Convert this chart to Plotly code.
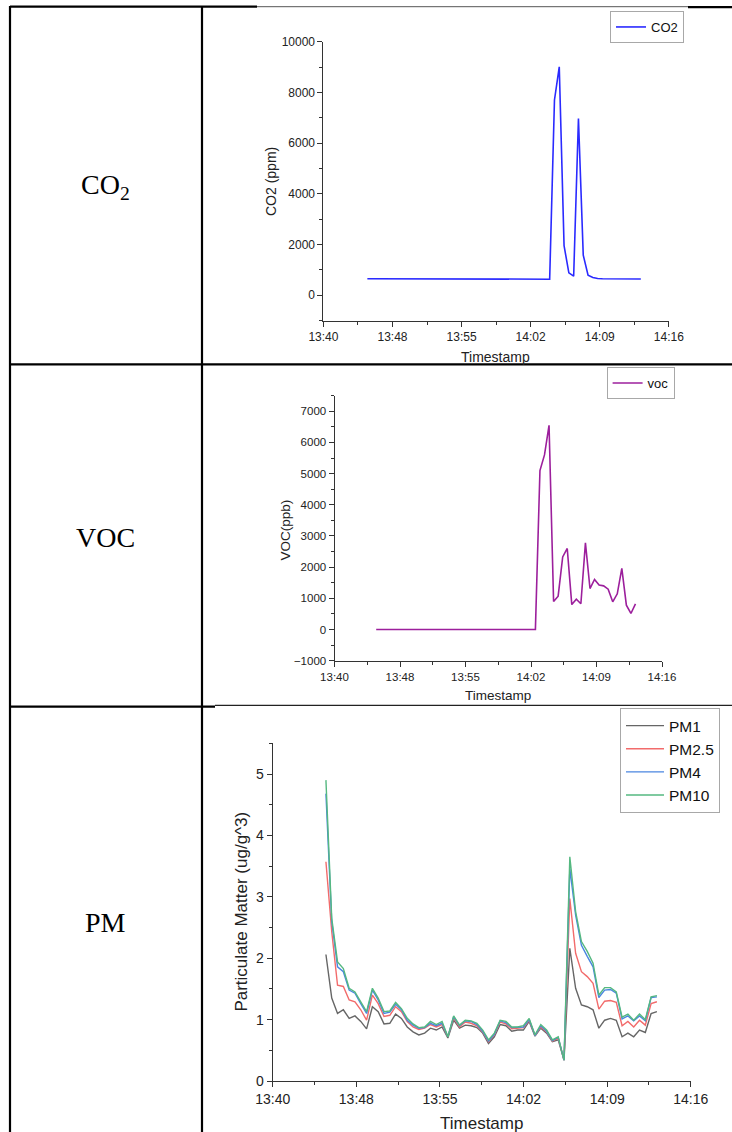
import plotly.graph_objects as go

W, H = 732, 1132

# ---------------- data ----------------
x_tick_labels = ["13:40", "13:48", "13:55", "14:02", "14:09", "14:16"]
x_tick_minutes = [0, 7.2, 14.4, 21.6, 28.8, 36]   # minutes after 13:40
x_minor_step = 3.6

co2_time = ["13:44:35", "13:55:35", "13:56:05", "14:03:35", "14:04:05", "14:04:35",
            "14:05:05", "14:05:35", "14:06:05", "14:06:35", "14:07:05", "14:07:35",
            "14:08:05", "14:08:35", "14:09:05", "14:11:05", "14:11:35", "14:13:05"]
co2_ppm = [650, 650, 630, 630, 7700, 9010, 1950, 880, 750, 6970, 1580, 790,
           700, 660, 650, 650, 640, 640]

voc_time = ["13:44:35", "14:02:05", "14:02:35", "14:03:05", "14:03:35", "14:04:05",
            "14:04:35", "14:05:05", "14:05:35", "14:06:05", "14:06:35", "14:07:05",
            "14:07:35", "14:08:05", "14:08:35", "14:09:05", "14:09:35", "14:10:05",
            "14:10:35", "14:11:05", "14:11:35", "14:12:05", "14:12:35", "14:13:05"]
voc_ppb = [0, 0, 5100, 5600, 6550, 900, 1070, 2330, 2600, 800, 975, 825,
           2780, 1315, 1605, 1425, 1400, 1295, 890, 1145, 1960, 780, 515, 825]

pm_time = ["13:44:35", "13:45:05", "13:45:35", "13:46:05", "13:46:35", "13:47:05",
           "13:47:35", "13:48:05", "13:48:35", "13:49:05", "13:49:35", "13:50:05",
           "13:50:35", "13:51:05", "13:51:35", "13:52:05", "13:52:35", "13:53:05",
           "13:53:35", "13:54:05", "13:54:35", "13:55:05", "13:55:35", "13:56:05",
           "13:56:35", "13:57:05", "13:57:35", "13:58:05", "13:58:35", "13:59:05",
           "13:59:35", "14:00:05", "14:00:35", "14:01:05", "14:01:35", "14:02:05",
           "14:02:35", "14:03:05", "14:03:35", "14:04:05", "14:04:35", "14:05:05",
           "14:05:35", "14:06:05", "14:06:35", "14:07:05", "14:07:35", "14:08:05",
           "14:08:35", "14:09:05", "14:09:35", "14:10:05", "14:10:35", "14:11:05",
           "14:11:35", "14:12:05", "14:12:35", "14:13:05"]
pm10 = [4.90, 2.65, 1.94, 1.83, 1.51, 1.45, 1.29, 1.13, 1.51, 1.35, 1.13, 1.14,
        1.28, 1.18, 1.02, 0.93, 0.87, 0.88, 0.97, 0.92, 0.97, 0.72, 1.06, 0.91,
        0.99, 0.98, 0.94, 0.83, 0.67, 0.78, 0.99, 0.97, 0.88, 0.88, 0.90, 1.02,
        0.75, 0.92, 0.83, 0.67, 0.72, 0.34, 3.65, 2.76, 2.27, 2.11, 1.92, 1.40,
        1.52, 1.52, 1.45, 1.04, 1.09, 0.99, 1.09, 1.00, 1.37, 1.39]
pm4 = [4.68, 2.60, 1.86, 1.78, 1.48, 1.43, 1.26, 1.10, 1.48, 1.32, 1.10, 1.12,
       1.25, 1.16, 0.99, 0.91, 0.86, 0.87, 0.94, 0.90, 0.94, 0.72, 1.05, 0.90,
       0.98, 0.97, 0.92, 0.81, 0.65, 0.76, 0.98, 0.95, 0.87, 0.87, 0.88, 1.00,
       0.74, 0.90, 0.81, 0.66, 0.71, 0.34, 3.46, 2.70, 2.21, 2.03, 1.86, 1.36,
       1.48, 1.49, 1.43, 1.01, 1.06, 0.98, 1.06, 0.98, 1.36, 1.37]
pm25 = [3.57, 2.43, 1.56, 1.54, 1.32, 1.29, 1.16, 0.99, 1.40, 1.26, 1.05, 1.07,
        1.21, 1.13, 0.97, 0.88, 0.84, 0.86, 0.92, 0.88, 0.92, 0.72, 1.03, 0.88,
        0.96, 0.94, 0.90, 0.80, 0.64, 0.75, 0.96, 0.93, 0.85, 0.86, 0.87, 0.99,
        0.74, 0.88, 0.80, 0.65, 0.70, 0.34, 2.97, 2.08, 1.78, 1.70, 1.59, 1.17,
        1.30, 1.31, 1.28, 0.90, 0.97, 0.88, 0.99, 0.91, 1.26, 1.29]
pm1 = [2.06, 1.35, 1.10, 1.16, 1.02, 1.06, 0.97, 0.85, 1.21, 1.13, 0.93, 0.94,
       1.09, 1.02, 0.88, 0.80, 0.75, 0.78, 0.86, 0.83, 0.88, 0.70, 0.99, 0.86,
       0.91, 0.90, 0.87, 0.78, 0.61, 0.72, 0.92, 0.90, 0.81, 0.83, 0.83, 0.97,
       0.73, 0.86, 0.78, 0.64, 0.67, 0.34, 2.16, 1.51, 1.24, 1.21, 1.16, 0.86,
       0.99, 1.02, 0.99, 0.72, 0.78, 0.72, 0.83, 0.79, 1.10, 1.13]


def to_min(t):
    h, m, s = (int(v) for v in t.split(":"))
    return h * 60 + m + s / 60 - (13 * 60 + 40)


def px(x):
    return x / W


def py(y):
    return 1 - y / H


SANS = "Liberation Sans, Arial, sans-serif"
SERIF = "Liberation Serif, Times New Roman, serif"
AX = "#333333"

fig = go.Figure()

fig.add_trace(go.Scatter(x=[to_min(t) for t in co2_time], y=co2_ppm, mode="lines",
                         name="CO2", line=dict(color="#2a2aff", width=1.6),
                         xaxis="x", yaxis="y", legend="legend"))
fig.add_trace(go.Scatter(x=[to_min(t) for t in voc_time], y=voc_ppb, mode="lines",
                         name="voc", line=dict(color="#9c1f9c", width=1.6),
                         xaxis="x2", yaxis="y2", legend="legend2"))
pm_x = [to_min(t) for t in pm_time]
for name, vals, col in [("PM1", pm1, "#666666"), ("PM2.5", pm25, "#f26b6b"),
                        ("PM4", pm4, "#4a86e0"), ("PM10", pm10, "#55b880")]:
    fig.add_trace(go.Scatter(x=pm_x, y=vals, mode="lines", name=name,
                             line=dict(color=col, width=1.4),
                             xaxis="x3", yaxis="y3", legend="legend3"))


def xaxis(x0, x1, fs, anchor):
    return dict(domain=[px(x0), px(x1)], anchor=anchor, range=[0, 36],
                automargin=False,
                tickmode="array", tickvals=x_tick_minutes, ticktext=x_tick_labels,
                ticks="outside", ticklen=5, tickwidth=1, tickcolor=AX,
                showline=True, linecolor=AX, linewidth=1, showgrid=False,
                zeroline=False, tickfont=dict(family=SANS, size=fs, color="#222"),
                minor=dict(ticks="outside", ticklen=3, tick0=x_minor_step,
                           dtick=x_minor_step, tickcolor=AX, tickwidth=1,
                           showgrid=False))


def yaxis(y0, y1, rng, dtick, mdtick, fs, anchor):
    return dict(domain=[py(y1), py(y0)], anchor=anchor, range=rng,
                automargin=False, tickformat="d",
                tickmode="linear", tick0=0, dtick=dtick,
                ticks="outside", ticklen=5, tickwidth=1, tickcolor=AX,
                showline=True, linecolor=AX, linewidth=1, showgrid=False,
                zeroline=False, tickfont=dict(family=SANS, size=fs, color="#222"),
                minor=dict(ticks="outside", ticklen=3, tick0=0, dtick=mdtick,
                           tickcolor=AX, tickwidth=1, showgrid=False))


def legend(x, y, fs, iw):
    return dict(x=px(x), y=py(y), xanchor="left", yanchor="top",
                xref="container", yref="container",
                bgcolor="white", bordercolor="#a8a8a8", borderwidth=1,
                font=dict(family=SANS, size=fs, color="#111"), itemwidth=iw,
                tracegroupgap=0)


layout = dict(
    width=W, height=H, margin=dict(l=0, r=0, t=0, b=0, pad=0, autoexpand=False),
    paper_bgcolor="white", plot_bgcolor="white",
    xaxis=xaxis(323.4, 668.8, 12, "y"),
    yaxis=yaxis(41.7, 320.5, [-1000, 10000], 2000, 1000, 12, "x"),
    xaxis2=xaxis(334.5, 662, 11.5, "y2"),
    yaxis2=yaxis(395.7, 660.7, [-1000, 7500], 1000, 500, 11.5, "x2"),
    xaxis3=xaxis(272.7, 690.8, 14, "y3"),
    yaxis3=yaxis(743.3, 1081, [0, 5.5], 1, 0.5, 14, "x3"),
    legend=legend(610, 11, 13, 30),
    legend2=legend(606.6, 367, 13, 30),
    legend3=legend(620, 708, 15.5, 38),
    showlegend=True,
)
fig.update_layout(**layout)


# table borders
def hline(x0, x1, y, w=2.2, c="black"):
    fig.add_shape(type="line", xref="paper", yref="paper", x0=px(x0), x1=px(x1),
                  y0=py(y), y1=py(y), line=dict(color=c, width=w), layer="below")


def vline(x, y0, y1, w=2.2):
    fig.add_shape(type="line", xref="paper", yref="paper", x0=px(x), x1=px(x),
                  y0=py(y0), y1=py(y1), line=dict(color="black", width=w), layer="below")


hline(10, 257, 6.7)
hline(257, 688, 6.7, w=1, c="#555")
hline(688, 732, 7.2)
hline(10, 732, 364.3)
hline(10, 215, 706.7)
hline(215, 732, 705.3, w=1.2, c="#222")
vline(10, 6, 1132)
vline(202, 6, 1132)

# left column labels
for txt, yc in [("CO<sub>2</sub>", 186), ("VOC", 537), ("PM", 922)]:
    fig.add_annotation(xref="paper", yref="paper", x=px(105), y=py(yc), text=txt,
                       showarrow=False, xanchor="center", yanchor="middle",
                       font=dict(family=SERIF, size=28, color="black"))

# axis titles
titles = [
    ("CO2 (ppm)", 271, 182, -90, 14),
    ("Timestamp", 495.8, 356.7, 0, 14),
    ("VOC(ppb)", 284.5, 530, -90, 13.5),
    ("Timestamp", 498, 695, 0, 13.5),
    ("Particulate Matter (ug/g^3)", 240.6, 912, -90, 17),
    ("Timestamp", 481, 1123.5, 0, 17),
]
for txt, x, y, ang, fs in titles:
    fig.add_annotation(xref="paper", yref="paper", x=px(x), y=py(y), text=txt,
                       showarrow=False, xanchor="center", yanchor="middle",
                       textangle=ang, font=dict(family=SANS, size=fs, color="#222"))

fig.write_html("out.html", config={"displayModeBar": False},
               post_script="document.body.style.margin='0';")
